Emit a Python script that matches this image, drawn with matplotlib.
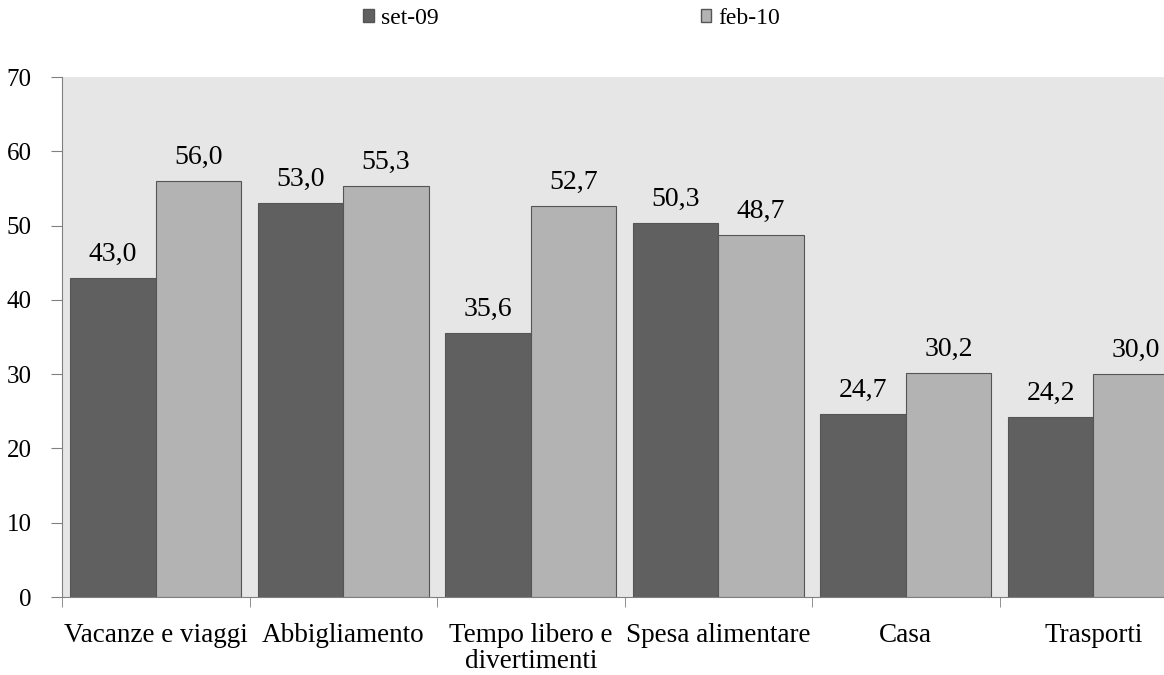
import matplotlib
matplotlib.use("Agg")
import matplotlib.pyplot as plt
from matplotlib.patches import Patch
import numpy as np

# categories and series values
categories = ["Vacanze e viaggi", "Abbigliamento", "Tempo libero e\ndivertimenti",
              "Spesa alimentare", "Casa", "Trasporti"]
set_09 = [43.0, 53.0, 35.6, 50.3, 24.7, 24.2]
feb_10 = [56.0, 55.3, 52.7, 48.7, 30.2, 30.0]
series_names = ["set-09", "feb-10"]
y_ticks = [0, 10, 20, 30, 40, 50, 60, 70]

plt.rcParams["font.family"] = ["Liberation Serif", "DejaVu Serif"]

dark = "#606060"
light = "#b3b3b3"

fig = plt.figure(figsize=(11.64, 6.75), dpi=100)
ax = fig.add_axes([62 / 1164, 1 - 597 / 675, 1125 / 1164, 520 / 675])
ax.set_facecolor("#e6e6e6")

x = np.arange(len(categories))
width = 0.455

bars1 = ax.bar(x - width / 2, set_09, width, color=dark, edgecolor="#555555", linewidth=0.8)
bars2 = ax.bar(x + width / 2, feb_10, width, color=light, edgecolor="#555555", linewidth=0.8)

# value labels with comma decimal separator
for bars, vals in ((bars1, set_09), (bars2, feb_10)):
    for b, v in zip(bars, vals):
        ax.text(b.get_x() + b.get_width() / 2, v + 2.3, f"{v:.1f}".replace(".", ","),
                ha="center", va="baseline", fontsize=20)

ax.set_xlim(-0.5, len(categories) - 0.5)
ax.set_ylim(0, 70)
ax.set_yticks(y_ticks)
ax.set_yticklabels([str(t) for t in y_ticks], fontsize=18)

# category labels centred, ticks at boundaries
ax.set_xticks(x)
ax.set_xticklabels(categories, fontsize=19.5)
for lbl in ax.get_xticklabels():
    lbl.set_linespacing(1.05)
ax.tick_params(axis="x", length=0, pad=19)
ax.set_xticks(np.arange(len(categories)) - 0.5, minor=True)
ax.tick_params(axis="x", which="minor", length=7, color="#808080")
ax.tick_params(axis="y", length=8, color="#808080", pad=14)

for side in ("top", "right"):
    ax.spines[side].set_visible(False)
for side in ("left", "bottom"):
    ax.spines[side].set_color("#808080")

handles = [Patch(facecolor=dark, edgecolor="#555555"),
           Patch(facecolor=light, edgecolor="#555555")]
fig.legend(handles, series_names, loc="center", bbox_to_anchor=(0.491, 0.973), ncol=2,
           frameon=False, fontsize=17, handlelength=0.45, handleheight=0.45,
           handletextpad=0.3, columnspacing=11.1)

fig.savefig("out.png", dpi=100)
